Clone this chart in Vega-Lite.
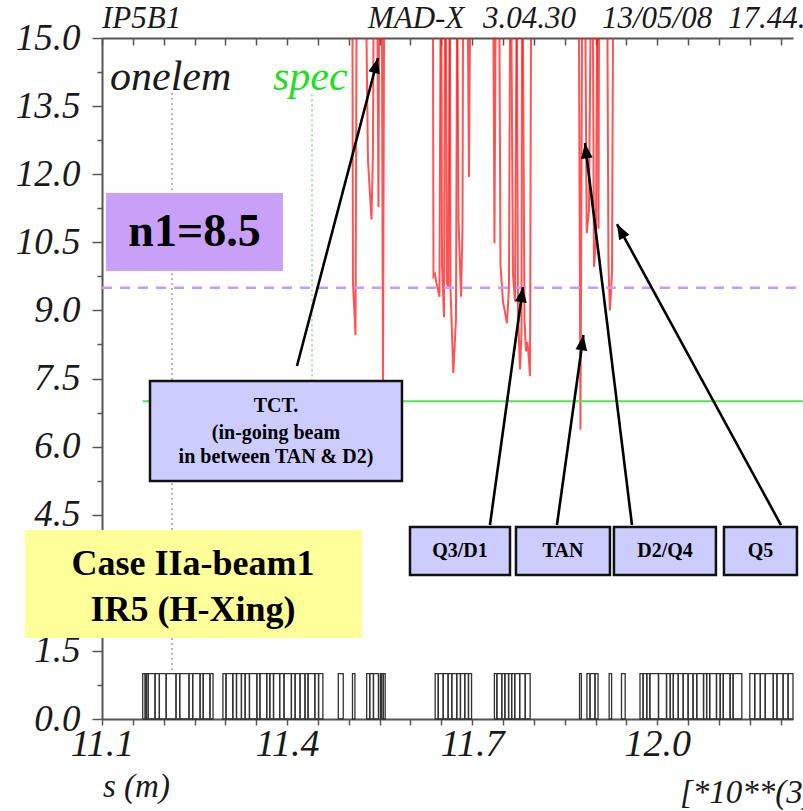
{
  "$schema": "https://vega.github.io/schema/vega-lite/v6.json",
  "width": 691,
  "height": 681,
  "autosize": {"type": "none"},
  "padding": {"left": 102, "top": 38, "right": 10, "bottom": 92},
  "background": "white",
  "config": {"view": {"stroke": null}, "axis": {"grid": false}},
  "resolve": {"axis": {"x": "independent", "y": "independent"}},
  "datasets": {
    "elements": [
      {"s0": 11.166, "s1": 11.170}, {"s0": 11.170, "s1": 11.172}, {"s0": 11.172, "s1": 11.175}, {"s0": 11.175, "s1": 11.186},
      {"s0": 11.186, "s1": 11.193}, {"s0": 11.193, "s1": 11.204}, {"s0": 11.204, "s1": 11.220}, {"s0": 11.220, "s1": 11.226},
      {"s0": 11.226, "s1": 11.241}, {"s0": 11.241, "s1": 11.247}, {"s0": 11.247, "s1": 11.259}, {"s0": 11.259, "s1": 11.264},
      {"s0": 11.264, "s1": 11.275}, {"s0": 11.275, "s1": 11.280},
      {"s0": 11.296, "s1": 11.301}, {"s0": 11.301, "s1": 11.312}, {"s0": 11.312, "s1": 11.318}, {"s0": 11.318, "s1": 11.326},
      {"s0": 11.326, "s1": 11.332}, {"s0": 11.332, "s1": 11.339}, {"s0": 11.339, "s1": 11.351}, {"s0": 11.351, "s1": 11.356},
      {"s0": 11.356, "s1": 11.367}, {"s0": 11.367, "s1": 11.372}, {"s0": 11.372, "s1": 11.378}, {"s0": 11.378, "s1": 11.388},
      {"s0": 11.388, "s1": 11.395}, {"s0": 11.395, "s1": 11.407}, {"s0": 11.407, "s1": 11.413}, {"s0": 11.413, "s1": 11.421},
      {"s0": 11.421, "s1": 11.429}, {"s0": 11.429, "s1": 11.434}, {"s0": 11.434, "s1": 11.445}, {"s0": 11.445, "s1": 11.451},
      {"s0": 11.451, "s1": 11.458},
      {"s0": 11.483, "s1": 11.491}, {"s0": 11.506, "s1": 11.510}, {"s0": 11.529, "s1": 11.534}, {"s0": 11.534, "s1": 11.540},
      {"s0": 11.540, "s1": 11.548}, {"s0": 11.551, "s1": 11.553}, {"s0": 11.553, "s1": 11.556}, {"s0": 11.556, "s1": 11.559},
      {"s0": 11.640, "s1": 11.645}, {"s0": 11.645, "s1": 11.653}, {"s0": 11.653, "s1": 11.661}, {"s0": 11.661, "s1": 11.667},
      {"s0": 11.667, "s1": 11.675}, {"s0": 11.675, "s1": 11.681}, {"s0": 11.681, "s1": 11.688}, {"s0": 11.688, "s1": 11.694},
      {"s0": 11.694, "s1": 11.699},
      {"s0": 11.736, "s1": 11.740}, {"s0": 11.740, "s1": 11.748}, {"s0": 11.748, "s1": 11.753}, {"s0": 11.753, "s1": 11.759},
      {"s0": 11.759, "s1": 11.764}, {"s0": 11.764, "s1": 11.769}, {"s0": 11.769, "s1": 11.777}, {"s0": 11.777, "s1": 11.786},
      {"s0": 11.786, "s1": 11.794},
      {"s0": 11.874, "s1": 11.877}, {"s0": 11.886, "s1": 11.891}, {"s0": 11.891, "s1": 11.899}, {"s0": 11.899, "s1": 11.904},
      {"s0": 11.922, "s1": 11.926}, {"s0": 11.942, "s1": 11.948},
      {"s0": 11.972, "s1": 11.977}, {"s0": 11.977, "s1": 11.983}, {"s0": 11.983, "s1": 11.988}, {"s0": 11.988, "s1": 12.002},
      {"s0": 12.002, "s1": 12.015}, {"s0": 12.015, "s1": 12.021}, {"s0": 12.021, "s1": 12.026}, {"s0": 12.026, "s1": 12.034},
      {"s0": 12.034, "s1": 12.042}, {"s0": 12.042, "s1": 12.050}, {"s0": 12.050, "s1": 12.058}, {"s0": 12.058, "s1": 12.064},
      {"s0": 12.064, "s1": 12.075}, {"s0": 12.075, "s1": 12.080}, {"s0": 12.080, "s1": 12.085}, {"s0": 12.085, "s1": 12.096},
      {"s0": 12.096, "s1": 12.102}, {"s0": 12.102, "s1": 12.107}, {"s0": 12.107, "s1": 12.118}, {"s0": 12.118, "s1": 12.123},
      {"s0": 12.123, "s1": 12.137},
      {"s0": 12.150, "s1": 12.158}, {"s0": 12.158, "s1": 12.167}, {"s0": 12.167, "s1": 12.175}, {"s0": 12.175, "s1": 12.188},
      {"s0": 12.188, "s1": 12.194}, {"s0": 12.194, "s1": 12.204}, {"s0": 12.204, "s1": 12.212}, {"s0": 12.212, "s1": 12.220}
    ],
    "aper": [
      {"seg": 1, "s": 11.5060, "n1": 15}, {"seg": 1, "s": 11.5068, "n1": 9.6}, {"seg": 1, "s": 11.5109, "n1": 8.46}, {"seg": 1, "s": 11.5125, "n1": 15},
      {"seg": 2, "s": 11.5287, "n1": 15}, {"seg": 2, "s": 11.5311, "n1": 12.3}, {"seg": 2, "s": 11.5368, "n1": 11.0}, {"seg": 2, "s": 11.5392, "n1": 12.5}, {"seg": 2, "s": 11.5400, "n1": 15},
      {"seg": 3, "s": 11.5465, "n1": 15}, {"seg": 3, "s": 11.5481, "n1": 11.28}, {"seg": 3, "s": 11.5490, "n1": 15},
      {"seg": 4, "s": 11.5538, "n1": 15}, {"seg": 4, "s": 11.5554, "n1": 7.3}, {"seg": 4, "s": 11.5571, "n1": 15},
      {"seg": 5, "s": 11.6365, "n1": 15}, {"seg": 5, "s": 11.6373, "n1": 9.75}, {"seg": 5, "s": 11.6397, "n1": 9.8}, {"seg": 5, "s": 11.6421, "n1": 9.6}, {"seg": 5, "s": 11.6470, "n1": 9.3}, {"seg": 5, "s": 11.6486, "n1": 15},
      {"seg": 6, "s": 11.6502, "n1": 15}, {"seg": 6, "s": 11.6511, "n1": 10.0}, {"seg": 6, "s": 11.6543, "n1": 8.85}, {"seg": 6, "s": 11.6559, "n1": 15},
      {"seg": 7, "s": 11.6575, "n1": 15}, {"seg": 7, "s": 11.6592, "n1": 9.6}, {"seg": 7, "s": 11.6616, "n1": 9.5}, {"seg": 7, "s": 11.6632, "n1": 15},
      {"seg": 8, "s": 11.6640, "n1": 15}, {"seg": 8, "s": 11.6648, "n1": 9.5}, {"seg": 8, "s": 11.6694, "n1": 7.62}, {"seg": 8, "s": 11.6737, "n1": 8.8}, {"seg": 8, "s": 11.6754, "n1": 15},
      {"seg": 9, "s": 11.6762, "n1": 15}, {"seg": 9, "s": 11.6778, "n1": 11.0}, {"seg": 9, "s": 11.6819, "n1": 9.3}, {"seg": 9, "s": 11.6843, "n1": 10.8}, {"seg": 9, "s": 11.6851, "n1": 15},
      {"seg": 10, "s": 11.6932, "n1": 15}, {"seg": 10, "s": 11.6948, "n1": 11.94}, {"seg": 10, "s": 11.6964, "n1": 15},
      {"seg": 11, "s": 11.7345, "n1": 15}, {"seg": 11, "s": 11.7361, "n1": 10.48}, {"seg": 11, "s": 11.7378, "n1": 15},
      {"seg": 12, "s": 11.7442, "n1": 15}, {"seg": 12, "s": 11.7459, "n1": 10.0}, {"seg": 12, "s": 11.7499, "n1": 9.2}, {"seg": 12, "s": 11.7564, "n1": 8.72}, {"seg": 12, "s": 11.7596, "n1": 9.5}, {"seg": 12, "s": 11.7613, "n1": 15},
      {"seg": 13, "s": 11.7637, "n1": 15}, {"seg": 13, "s": 11.7661, "n1": 9.8}, {"seg": 13, "s": 11.7694, "n1": 9.2}, {"seg": 13, "s": 11.7718, "n1": 15},
      {"seg": 14, "s": 11.7726, "n1": 15}, {"seg": 14, "s": 11.7742, "n1": 9.0}, {"seg": 14, "s": 11.7775, "n1": 7.7}, {"seg": 14, "s": 11.7799, "n1": 8.5}, {"seg": 14, "s": 11.7807, "n1": 15},
      {"seg": 15, "s": 11.7823, "n1": 15}, {"seg": 15, "s": 11.7848, "n1": 8.8}, {"seg": 15, "s": 11.7872, "n1": 8.1}, {"seg": 15, "s": 11.7896, "n1": 8.3}, {"seg": 15, "s": 11.7921, "n1": 7.9}, {"seg": 15, "s": 11.7937, "n1": 7.55}, {"seg": 15, "s": 11.7953, "n1": 15},
      {"seg": 16, "s": 11.8731, "n1": 15}, {"seg": 16, "s": 11.8755, "n1": 6.37}, {"seg": 16, "s": 11.8780, "n1": 15},
      {"seg": 17, "s": 11.8836, "n1": 15}, {"seg": 17, "s": 11.8856, "n1": 10.7}, {"seg": 17, "s": 11.8893, "n1": 11.2}, {"seg": 17, "s": 11.8917, "n1": 15},
      {"seg": 18, "s": 11.8958, "n1": 15}, {"seg": 18, "s": 11.8974, "n1": 9.96}, {"seg": 18, "s": 11.9006, "n1": 10.5}, {"seg": 18, "s": 11.9023, "n1": 15},
      {"seg": 19, "s": 11.9039, "n1": 15}, {"seg": 19, "s": 11.9047, "n1": 10.8}, {"seg": 19, "s": 11.9055, "n1": 15},
      {"seg": 20, "s": 11.9193, "n1": 15}, {"seg": 20, "s": 11.9209, "n1": 10.0}, {"seg": 20, "s": 11.9233, "n1": 9.0}, {"seg": 20, "s": 11.9266, "n1": 9.8}, {"seg": 20, "s": 11.9282, "n1": 15}
    ],
    "boxtext": [
      {"box": "n1", "s": 11.2499, "v": 10.72, "t": "n1=8.5"},
      {"box": "case", "s": 11.2475, "v": 3.42, "t": "Case IIa-beam1"},
      {"box": "case", "s": 11.2475, "v": 2.41, "t": "IR5 (H-Xing)"},
      {"box": "tct", "s": 11.382, "v": 6.89, "t": "TCT."},
      {"box": "tct", "s": 11.382, "v": 6.30, "t": "(in-going beam"},
      {"box": "tct", "s": 11.382, "v": 5.77, "t": "in between TAN & D2)"},
      {"box": "q", "s": 11.6802, "v": 3.70, "t": "Q3/D1"},
      {"box": "q", "s": 11.8472, "v": 3.70, "t": "TAN"},
      {"box": "q", "s": 12.0125, "v": 3.70, "t": "D2/Q4"},
      {"box": "q", "s": 12.1673, "v": 3.70, "t": "Q5"}
    ]
  },
  "layer": [
    {
      "data": {"name": "elements"},
      "mark": {"type": "rect", "fillOpacity": 0, "stroke": "#333333", "strokeWidth": 1.3},
      "encoding": {
        "x": {"field": "s0", "type": "quantitative", "scale": {"domain": [11.1, 12.22], "nice": false, "zero": false},
          "axis": {"orient": "bottom", "title": null,
            "values": [11.1, 11.15, 11.2, 11.25, 11.3, 11.35, 11.4, 11.45, 11.5, 11.55, 11.6, 11.65, 11.7, 11.75, 11.8, 11.85, 11.9, 11.95, 12.0, 12.05, 12.1, 12.15, 12.2],
            "labelExpr": "abs(datum.value*10 - round(datum.value*10)) < 0.01 && round(datum.value*10) % 3 == 0 ? format(datum.value, '.1f') : ''",
            "labelOverlap": false, "labelFlush": false, "labelFont": "Liberation Serif", "labelFontStyle": "italic", "labelFontSize": 38, "labelColor": "#1a1a1a", "labelPadding": 0,
            "tickSize": 6, "tickColor": "#555555", "tickWidth": 1.5, "domainColor": "#555555", "domainWidth": 2}},
        "x2": {"field": "s1"},
        "y": {"datum": 1, "type": "quantitative", "scale": {"domain": [0, 15], "nice": false, "zero": false},
          "axis": {"orient": "left", "title": null, "values": [0, 1.5, 3, 4.5, 6, 7.5, 9, 10.5, 12, 13.5, 15], "format": ".1f",
            "labelOverlap": false, "labelFlush": false, "labelFont": "Liberation Serif", "labelFontStyle": "italic", "labelFontSize": 37, "labelColor": "#1a1a1a", "labelPadding": 12,
            "tickSize": 10, "tickColor": "#555555", "tickWidth": 1.5, "domainColor": "#555555", "domainWidth": 2}},
        "y2": {"datum": 0}
      }
    },
    {
      "data": {"name": "aper"},
      "mark": {"type": "line", "color": "#ff1a1a", "strokeWidth": 2, "opacity": 0.75, "clip": true},
      "encoding": {
        "x": {"field": "s", "type": "quantitative", "scale": {"domain": [11.1, 12.22], "nice": false, "zero": false},
          "axis": {"orient": "top", "title": null, "offset": -7,
            "values": [11.1, 11.15, 11.2, 11.25, 11.3, 11.35, 11.4, 11.45, 11.5, 11.55, 11.6, 11.65, 11.7, 11.75, 11.8, 11.85, 11.9, 11.95, 12.0, 12.05, 12.1, 12.15, 12.2],
            "labels": false, "domain": false, "tickSize": 7, "tickColor": "#555555", "tickWidth": 1.5}},
        "y": {"field": "n1", "type": "quantitative", "scale": {"domain": [0, 15], "nice": false, "zero": false},
          "axis": {"orient": "left", "title": null, "values": [0.75, 2.25, 3.75, 5.25, 6.75, 8.25, 9.75, 11.25, 12.75, 14.25],
            "labels": false, "domain": false, "tickSize": 5, "tickColor": "#555555", "tickWidth": 1.5}},
        "detail": {"field": "seg"}
      }
    },
    {
      "data": {"values": [{"s": 11.2135, "lo": 1.08, "hi": 13.79}]},
      "mark": {"type": "rule", "color": "#888888", "strokeWidth": 1.2, "strokeDash": [2, 3]},
      "encoding": {
        "x": {"field": "s", "type": "quantitative", "scale": {"domain": [11.1, 12.22], "nice": false, "zero": false},
          "axis": {"orient": "top", "title": null, "labels": false, "ticks": false, "domain": true, "domainColor": "#555555", "domainWidth": 2}},
        "y": {"field": "lo", "type": "quantitative", "scale": {"domain": [0, 15], "nice": false, "zero": false}, "axis": null},
        "y2": {"field": "hi"}
      }
    },
    {
      "data": {"values": [{"s": 11.4404, "lo": 7.0, "hi": 13.79}]},
      "mark": {"type": "rule", "color": "#55dd55", "strokeWidth": 1.2, "strokeDash": [2, 3]},
      "encoding": {
        "x": {"field": "s", "type": "quantitative", "scale": {"domain": [11.1, 12.22], "nice": false, "zero": false}, "axis": null},
        "y": {"field": "lo", "type": "quantitative", "scale": {"domain": [0, 15], "nice": false, "zero": false}, "axis": null},
        "y2": {"field": "hi"}
      }
    },
    {
      "data": {"values": [{"s0": 11.1, "s1": 12.236, "v": 9.5}]},
      "mark": {"type": "rule", "color": "#c39bff", "strokeWidth": 2.5, "strokeDash": [10, 8]},
      "encoding": {
        "x": {"field": "s0", "type": "quantitative", "scale": {"domain": [11.1, 12.22], "nice": false, "zero": false}, "axis": null},
        "x2": {"field": "s1"},
        "y": {"field": "v", "type": "quantitative", "scale": {"domain": [0, 15], "nice": false, "zero": false}, "axis": null}
      }
    },
    {
      "data": {"values": [{"s0": 11.166, "s1": 12.236, "v": 7.0}]},
      "mark": {"type": "rule", "color": "#55e055", "strokeWidth": 2},
      "encoding": {
        "x": {"field": "s0", "type": "quantitative", "scale": {"domain": [11.1, 12.22], "nice": false, "zero": false}, "axis": null},
        "x2": {"field": "s1"},
        "y": {"field": "v", "type": "quantitative", "scale": {"domain": [0, 15], "nice": false, "zero": false}, "axis": null}
      }
    },
    {
      "data": {"values": [{"s": 11.113, "v": 13.86, "t": "onelem"}]},
      "mark": {"type": "text", "align": "left", "baseline": "alphabetic", "font": "Liberation Serif", "fontStyle": "italic", "fontSize": 42, "color": "#1a1a1a"},
      "encoding": {
        "x": {"field": "s", "type": "quantitative", "scale": {"domain": [11.1, 12.22], "nice": false, "zero": false}, "axis": null},
        "y": {"field": "v", "type": "quantitative", "scale": {"domain": [0, 15], "nice": false, "zero": false}, "axis": null},
        "text": {"field": "t"}
      }
    },
    {
      "data": {"values": [{"s": 11.3771, "v": 13.86, "t": "spec"}]},
      "mark": {"type": "text", "align": "left", "baseline": "alphabetic", "font": "Liberation Serif", "fontStyle": "italic", "fontSize": 42, "color": "#1ee01e"},
      "encoding": {
        "x": {"field": "s", "type": "quantitative", "scale": {"domain": [11.1, 12.22], "nice": false, "zero": false}, "axis": null},
        "y": {"field": "v", "type": "quantitative", "scale": {"domain": [0, 15], "nice": false, "zero": false}, "axis": null},
        "text": {"field": "t"}
      }
    },
    {
      "data": {"values": [{"s0": 11.1065, "s1": 11.3933, "lo": 9.868, "hi": 11.586}]},
      "mark": {"type": "rect", "color": "#c8a0f8"},
      "encoding": {
        "x": {"field": "s0", "type": "quantitative", "scale": {"domain": [11.1, 12.22], "nice": false, "zero": false}, "axis": null},
        "x2": {"field": "s1"},
        "y": {"field": "lo", "type": "quantitative", "scale": {"domain": [0, 15], "nice": false, "zero": false}, "axis": null},
        "y2": {"field": "hi"}
      }
    },
    {
      "data": {"values": [{"s0": 10.9752, "s1": 11.5214, "lo": 1.784, "hi": 4.163}]},
      "mark": {"type": "rect", "color": "#ffff99"},
      "encoding": {
        "x": {"field": "s0", "type": "quantitative", "scale": {"domain": [11.1, 12.22], "nice": false, "zero": false}, "axis": null},
        "x2": {"field": "s1"},
        "y": {"field": "lo", "type": "quantitative", "scale": {"domain": [0, 15], "nice": false, "zero": false}, "axis": null},
        "y2": {"field": "hi"}
      }
    },
    {
      "data": {"values": [
        {"s0": 11.1778, "s1": 11.5862, "lo": 5.242, "hi": 7.445},
        {"s0": 11.5992, "s1": 11.7613, "lo": 3.172, "hi": 4.229},
        {"s0": 11.7710, "s1": 11.9233, "lo": 3.172, "hi": 4.229},
        {"s0": 11.9298, "s1": 12.0951, "lo": 3.172, "hi": 4.229},
        {"s0": 12.1081, "s1": 12.2264, "lo": 3.172, "hi": 4.229}
      ]},
      "mark": {"type": "rect", "fill": "#ccccff", "stroke": "#111111", "strokeWidth": 2.5},
      "encoding": {
        "x": {"field": "s0", "type": "quantitative", "scale": {"domain": [11.1, 12.22], "nice": false, "zero": false}, "axis": null},
        "x2": {"field": "s1"},
        "y": {"field": "lo", "type": "quantitative", "scale": {"domain": [0, 15], "nice": false, "zero": false}, "axis": null},
        "y2": {"field": "hi"}
      }
    },
    {
      "data": {"name": "boxtext"},
      "transform": [{"filter": "datum.box == 'n1'"}],
      "mark": {"type": "text", "align": "center", "baseline": "middle", "font": "Liberation Serif", "fontWeight": "bold", "fontSize": 46, "color": "#000000"},
      "encoding": {
        "x": {"field": "s", "type": "quantitative", "scale": {"domain": [11.1, 12.22], "nice": false, "zero": false}, "axis": null},
        "y": {"field": "v", "type": "quantitative", "scale": {"domain": [0, 15], "nice": false, "zero": false}, "axis": null},
        "text": {"field": "t"}
      }
    },
    {
      "data": {"name": "boxtext"},
      "transform": [{"filter": "datum.box == 'case'"}],
      "mark": {"type": "text", "align": "center", "baseline": "middle", "font": "Liberation Serif", "fontWeight": "bold", "fontSize": 36, "color": "#000000"},
      "encoding": {
        "x": {"field": "s", "type": "quantitative", "scale": {"domain": [11.1, 12.22], "nice": false, "zero": false}, "axis": null},
        "y": {"field": "v", "type": "quantitative", "scale": {"domain": [0, 15], "nice": false, "zero": false}, "axis": null},
        "text": {"field": "t"}
      }
    },
    {
      "data": {"name": "boxtext"},
      "transform": [{"filter": "datum.box == 'tct' || datum.box == 'q'"}],
      "mark": {"type": "text", "align": "center", "baseline": "middle", "font": "Liberation Serif", "fontWeight": "bold", "fontSize": 20, "color": "#000000"},
      "encoding": {
        "x": {"field": "s", "type": "quantitative", "scale": {"domain": [11.1, 12.22], "nice": false, "zero": false}, "axis": null},
        "y": {"field": "v", "type": "quantitative", "scale": {"domain": [0, 15], "nice": false, "zero": false}, "axis": null},
        "text": {"field": "t"}
      }
    },
    {
      "data": {"values": [
        {"s0": 11.4160, "v0": 7.775, "s1": 11.5473, "v1": 14.559},
        {"s0": 11.7288, "v0": 4.273, "s1": 11.7823, "v1": 9.515},
        {"s0": 11.8374, "v0": 4.273, "s1": 11.8804, "v1": 8.458},
        {"s0": 11.9590, "v0": 4.273, "s1": 11.8828, "v1": 12.687},
        {"s0": 12.2005, "v0": 4.273, "s1": 11.9347, "v1": 10.903}
      ]},
      "layer": [
        {
          "mark": {"type": "rule", "color": "#000000", "strokeWidth": 2.6},
          "encoding": {
            "x": {"field": "s0", "type": "quantitative", "scale": {"domain": [11.1, 12.22], "nice": false, "zero": false}, "axis": null},
            "x2": {"field": "s1"},
            "y": {"field": "v0", "type": "quantitative", "scale": {"domain": [0, 15], "nice": false, "zero": false}, "axis": null},
            "y2": {"field": "v1"}
          }
        },
        {
          "mark": {"type": "point", "filled": true, "color": "#000000", "opacity": 1, "size": 324,
            "shape": "M0,0L-0.65,1.7L0.65,1.7Z",
            "angle": {"expr": "atan2(scale('x', datum.s1) - scale('x', datum.s0), scale('y', datum.v0) - scale('y', datum.v1)) * 180 / PI"}},
          "encoding": {
            "x": {"field": "s1", "type": "quantitative", "scale": {"domain": [11.1, 12.22], "nice": false, "zero": false}, "axis": null},
            "y": {"field": "v1", "type": "quantitative", "scale": {"domain": [0, 15], "nice": false, "zero": false}, "axis": null}
          }
        }
      ]
    },
    {
      "data": {"values": [
        {"s": 11.1, "v": 15.22, "t": "IP5B1"},
        {"s": 11.5311, "v": 15.22, "t": "MAD-X"},
        {"s": 11.7175, "v": 15.22, "t": "3.04.30"},
        {"s": 11.9104, "v": 15.22, "t": "13/05/08"},
        {"s": 12.1146, "v": 15.22, "t": "17.44.36"}
      ]},
      "mark": {"type": "text", "align": "left", "baseline": "alphabetic", "font": "Liberation Serif", "fontStyle": "italic", "fontSize": 31, "color": "#1a1a1a"},
      "encoding": {
        "x": {"field": "s", "type": "quantitative", "scale": {"domain": [11.1, 12.22], "nice": false, "zero": false}, "axis": null},
        "y": {"field": "v", "type": "quantitative", "scale": {"domain": [0, 15], "nice": false, "zero": false}, "axis": null},
        "text": {"field": "t"}
      }
    },
    {
      "data": {"values": [
        {"s": 11.1016, "v": -1.72, "t": "s (m)"},
        {"s": 12.0368, "v": -1.85, "t": "[*10**(3)]"}
      ]},
      "mark": {"type": "text", "align": "left", "baseline": "alphabetic", "font": "Liberation Serif", "fontStyle": "italic", "fontSize": 33, "color": "#1a1a1a"},
      "encoding": {
        "x": {"field": "s", "type": "quantitative", "scale": {"domain": [11.1, 12.22], "nice": false, "zero": false}, "axis": null},
        "y": {"field": "v", "type": "quantitative", "scale": {"domain": [0, 15], "nice": false, "zero": false}, "axis": null},
        "text": {"field": "t"}
      }
    }
  ]
}
